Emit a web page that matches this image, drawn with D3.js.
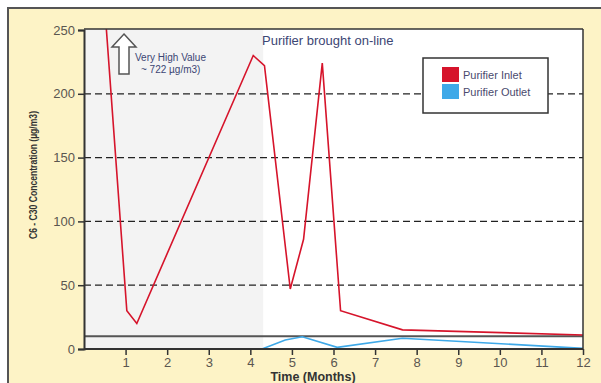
<!DOCTYPE html>
<html>
<head>
<meta charset="utf-8">
<script src="https://cdn.jsdelivr.net/npm/d3@7"></script>
<style>
  html, body { margin: 0; padding: 0; background: #fff; }
  svg { display: block; font-family: "Liberation Sans Narrow", "Liberation Sans", Arial, sans-serif; }
</style>
</head>
<body>
<div id="chart"></div>
<script>
// values
const inletMonths  = [0.45, 1.03, 1.27, 4.07, 4.34, 4.96, 5.28, 5.73, 6.17, 7.66, 12];
const inletValues  = [290, 30, 20, 230, 222, 47, 86, 224, 30, 15, 11];
const outletMonths = [4.28, 4.84, 5.25, 6.09, 7.66, 12];
const outletValues = [0, 7, 9.6, 1.3, 8.4, 0.5];
const xTicks = [1, 2, 3, 4, 5, 6, 7, 8, 9, 10, 11, 12];
const yTicks = [0, 50, 100, 150, 200, 250];
const gridValues = [50, 100, 150, 200];
const limitValue = 10;
const onlineMonth = 4.31;
const seriesNames = ['Purifier Inlet', 'Purifier Outlet'];
const seriesColors = ['#d6142b', '#3fa9e8'];

const W = 601, H = 383;
const m = { left: 84, right: 583, top: 29, bottom: 349 };

const svg = d3.select('#chart').append('svg').attr('width', W).attr('height', H);

// outer yellow panel
svg.append('rect').attr('x', 8).attr('y', 8).attr('width', W).attr('height', H)
  .attr('fill', '#fdf3c6').attr('stroke', '#555').attr('stroke-width', 2);

const x = d3.scaleLinear().domain([0, 12]).range([m.left, m.right]);
const y = d3.scaleLinear().domain([0, 250]).range([m.bottom, 30]);

// plot box
svg.append('rect').attr('x', m.left).attr('y', m.top)
  .attr('width', m.right - m.left).attr('height', m.bottom - m.top).attr('fill', '#fff');
svg.append('rect').attr('x', m.left).attr('y', m.top)
  .attr('width', x(onlineMonth) - m.left).attr('height', m.bottom - m.top).attr('fill', '#f3f3f3');

// dashed grid
svg.selectAll('line.grid').data(gridValues).enter().append('line')
  .attr('class', 'grid')
  .attr('x1', m.left).attr('x2', m.right)
  .attr('y1', d => y(d)).attr('y2', d => y(d))
  .attr('stroke', '#222').attr('stroke-width', 1.3).attr('stroke-dasharray', '7,4');

// solid limit line
svg.append('line').attr('x1', m.left).attr('x2', m.right)
  .attr('y1', y(limitValue)).attr('y2', y(limitValue))
  .attr('stroke', '#555').attr('stroke-width', 2);

// clip for lines
svg.append('clipPath').attr('id', 'clip').append('rect')
  .attr('x', m.left).attr('y', m.top).attr('width', m.right - m.left).attr('height', m.bottom - m.top + 2);

const line = d3.line().x(d => x(d[0])).y(d => y(d[1]));
const g = svg.append('g').attr('clip-path', 'url(#clip)');
g.append('path').datum(outletMonths.map((d, i) => [d, outletValues[i]]))
  .attr('d', line).attr('fill', 'none').attr('stroke', seriesColors[1]).attr('stroke-width', 1.6);
g.append('path').datum(inletMonths.map((d, i) => [d, inletValues[i]]))
  .attr('d', line).attr('fill', 'none').attr('stroke', seriesColors[0]).attr('stroke-width', 1.6);

// box borders
svg.append('line').attr('x1', m.left).attr('x2', m.right).attr('y1', m.top).attr('y2', m.top)
  .attr('stroke', '#333').attr('stroke-width', 1.5);
svg.append('line').attr('x1', m.right).attr('x2', m.right).attr('y1', m.top).attr('y2', m.bottom)
  .attr('stroke', '#333').attr('stroke-width', 1.5);

// axes
const yAxis = svg.append('g').attr('transform', `translate(${m.left},0)`)
  .call(d3.axisLeft(y).tickValues(yTicks).tickSize(6).tickPadding(3));
const xAxis = svg.append('g').attr('transform', `translate(0,${m.bottom})`)
  .call(d3.axisBottom(x).tickValues(xTicks).tickSize(6).tickPadding(3).tickSizeOuter(0));
[yAxis, xAxis].forEach(a => {
  a.select('.domain').attr('stroke', '#333').attr('stroke-width', 2);
  a.selectAll('.tick line').attr('stroke', '#333').attr('stroke-width', 1.5);
  a.selectAll('.tick text').attr('fill', '#5a5650').attr('font-size', 13)
    .attr('font-family', '"Liberation Sans", Arial, sans-serif');
});
xAxis.select('.domain').attr('d', `M${m.left},0H${m.right}`);

// axis titles
svg.append('text').attr('transform', `translate(37,${(112 + 238) / 2}) rotate(-90)`)
  .attr('text-anchor', 'middle').attr('font-size', 11.5).attr('font-weight', 'bold')
  .attr('textLength', 128).attr('lengthAdjust', 'spacingAndGlyphs')
  .attr('fill', '#333').text('C6 - C30 Concentration (µg/m3)');
svg.append('text').attr('x', 313).attr('y', 381).attr('text-anchor', 'middle')
  .attr('font-size', 12.5).attr('font-weight', 'bold').attr('fill', '#333').text('Time (Months)');

// annotations
svg.append('text').attr('x', 262).attr('y', 45).attr('font-size', 13)
  .attr('fill', '#3c4674').text('Purifier brought on-line');

const ax = 124, atop = 34;
svg.append('path')
  .attr('d', `M${ax},${atop} L${ax + 12},${atop + 13} L${ax + 5},${atop + 13} L${ax + 5},${atop + 40} L${ax - 5},${atop + 40} L${ax - 5},${atop + 13} L${ax - 12},${atop + 13} Z`)
  .attr('fill', '#fff').attr('stroke', '#555').attr('stroke-width', 1.5);
svg.append('text').attr('x', 135).attr('y', 61).attr('font-size', 10)
  .attr('fill', '#3c4674').text('Very High Value');
svg.append('text').attr('x', 141).attr('y', 73).attr('font-size', 10)
  .attr('fill', '#3c4674').text('~ 722 µg/m3)');

// legend
const lg = svg.append('g').attr('transform', 'translate(423,58)');
lg.append('rect').attr('width', 125).attr('height', 55).attr('fill', '#fff')
  .attr('stroke', '#333').attr('stroke-width', 1.5);
seriesNames.forEach((name, i) => {
  lg.append('rect').attr('x', 19).attr('y', 9 + i * 17).attr('width', 17).attr('height', 15)
    .attr('fill', seriesColors[i]);
  lg.append('text').attr('x', 40).attr('y', 21 + i * 17).attr('font-size', 11)
    .attr('fill', '#4a4a6e').text(name);
});
</script>
</body>
</html>
